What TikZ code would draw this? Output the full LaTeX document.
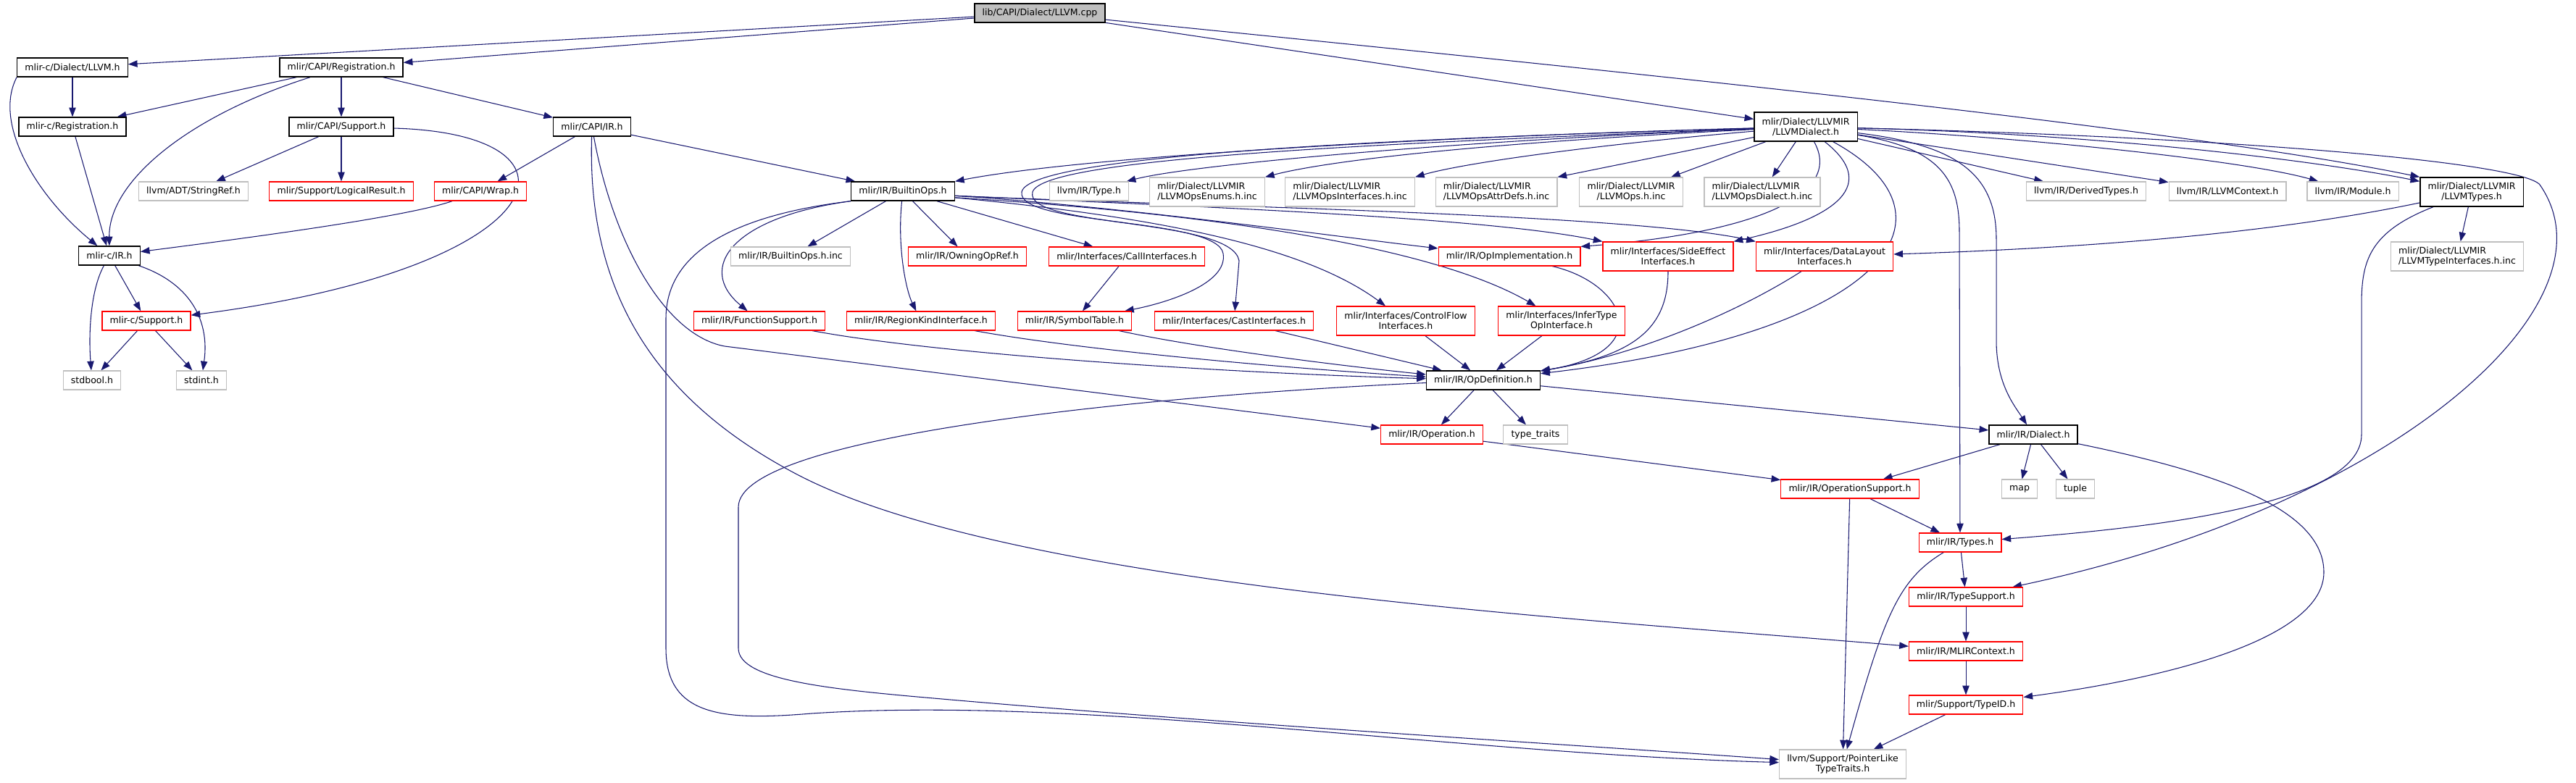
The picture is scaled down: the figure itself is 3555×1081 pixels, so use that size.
\documentclass[tikz,border=0pt]{standalone}
\usepackage{fontspec}
\setmainfont{DejaVu Sans}
\usetikzlibrary{arrows.meta}
\definecolor{edgec}{HTML}{191970}
\definecolor{greyb}{HTML}{BFBFBF}
\definecolor{redb}{HTML}{FF0000}
\pgfdeclarelayer{background}
\pgfsetlayers{background,main}
\begin{document}
\begin{tikzpicture}[x=0.75pt,y=-0.75pt,
  every node/.style={font=\fontsize{9.4}{10.5}\selectfont},
  fbox/.style={draw, line width=0.9pt, fill=white, inner xsep=8pt, inner ysep=2pt, minimum height=19.5pt},
  two/.style={minimum height=30pt},
  kbox/.style={fbox, draw=black, line width=1pt},
  gbox/.style={fbox, draw=greyb},
  rbox/.style={fbox, draw=redb},
  rootbox/.style={fbox, draw=black, fill=greyb, line width=1pt},
  dep/.style={draw=edgec, line width=0.8pt, -{Triangle[length=9.5pt,width=7pt]}}
]
\useasboundingbox (0,0) rectangle (3555,1081);

% ---------- nodes ----------
\node[rootbox] (root) at (1435,18) {lib/CAPI/Dialect/LLVM.cpp};
\node[kbox] (cdl) at (100,93) {mlir-c/Dialect/LLVM.h};
\node[kbox] (capireg) at (471,93) {mlir/CAPI/Registration.h};
\node[kbox] (creg) at (100,175) {mlir-c/Registration.h};
\node[kbox] (capisup) at (471,175) {mlir/CAPI/Support.h};
\node[kbox] (capiir) at (817,175) {mlir/CAPI/IR.h};
\node[gbox] (strref) at (267,264) {llvm/ADT/StringRef.h};
\node[rbox] (logres) at (471,264) {mlir/Support/LogicalResult.h};
\node[rbox] (wrap) at (663,264) {mlir/CAPI/Wrap.h};
\node[kbox] (cir) at (151,353) {mlir-c/IR.h};
\node[rbox] (csup) at (202,443) {mlir-c/Support.h};
\node[gbox] (stdbool) at (127,525) {stdbool.h};
\node[gbox] (stdint) at (278,525) {stdint.h};

\node[kbox] (bops) at (1246,264) {mlir/IR/BuiltinOps.h};
\node[gbox] (ltype) at (1503,264) {llvm/IR/Type.h};
\node[gbox,two,align=left] (enums) at (1666,265) {mlir/Dialect/LLVMIR\\/LLVMOpsEnums.h.inc};
\node[gbox,two,align=left] (ifaces) at (1863,265) {mlir/Dialect/LLVMIR\\/LLVMOpsInterfaces.h.inc};
\node[gbox,two,align=left] (attrdefs) at (2065,265) {mlir/Dialect/LLVMIR\\/LLVMOpsAttrDefs.h.inc};
\node[gbox,two,align=center] (opsinc) at (2251,265) {mlir/Dialect/LLVMIR\\/LLVMOps.h.inc};
\node[gbox,two,align=left] (dialinc) at (2432,265) {mlir/Dialect/LLVMIR\\/LLVMOpsDialect.h.inc};
\node[gbox] (derived) at (2879,264) {llvm/IR/DerivedTypes.h};
\node[gbox] (lctx) at (3074,264) {llvm/IR/LLVMContext.h};
\node[gbox] (module) at (3247,264) {llvm/IR/Module.h};
\node[kbox,two,align=center] (lltypes) at (3411,265) {mlir/Dialect/LLVMIR\\/LLVMTypes.h};
\node[kbox,two,align=center] (lldial) at (2492,175) {mlir/Dialect/LLVMIR\\/LLVMDialect.h};
\node[gbox,two,align=left] (tyifinc) at (3391,354) {mlir/Dialect/LLVMIR\\/LLVMTypeInterfaces.h.inc};

\node[gbox] (bopsinc) at (1091,354) {mlir/IR/BuiltinOps.h.inc};
\node[rbox] (owning) at (1335,354) {mlir/IR/OwningOpRef.h};
\node[rbox] (callif) at (1555,354) {mlir/Interfaces/CallInterfaces.h};
\node[rbox] (opimpl) at (2083,354) {mlir/IR/OpImplementation.h};
\node[rbox,two,align=center] (sideeff) at (2302,354) {mlir/Interfaces/SideEffect\\Interfaces.h};
\node[rbox,two,align=center] (datalayout) at (2518,354) {mlir/Interfaces/DataLayout\\Interfaces.h};

\node[rbox] (funcsup) at (1048,443) {mlir/IR/FunctionSupport.h};
\node[rbox] (regkind) at (1271,443) {mlir/IR/RegionKindInterface.h};
\node[rbox] (symtab) at (1483,443) {mlir/IR/SymbolTable.h};
\node[rbox] (castif) at (1703,443) {mlir/Interfaces/CastInterfaces.h};
\node[rbox,two,align=center] (cflow) at (1940,443) {mlir/Interfaces/ControlFlow\\Interfaces.h};
\node[rbox,two,align=center] (infer) at (2155,443) {mlir/Interfaces/InferType\\OpInterface.h};

\node[kbox] (opdef) at (2047,525) {mlir/IR/OpDefinition.h};
\node[rbox] (operation) at (1976,600) {mlir/IR/Operation.h};
\node[gbox] (typetraits) at (2119,600) {type\_traits};
\node[kbox] (dialect) at (2806,600) {mlir/IR/Dialect.h};
\node[gbox] (map) at (2787,675) {map};
\node[gbox] (tuple) at (2864,675) {tuple};
\node[rbox] (opsupport) at (2553,675) {mlir/IR/OperationSupport.h};
\node[rbox] (types) at (2705,749) {mlir/IR/Types.h};
\node[rbox] (typesup) at (2713,824) {mlir/IR/TypeSupport.h};
\node[rbox] (mlirctx) at (2713,899) {mlir/IR/MLIRContext.h};
\node[rbox] (typeid) at (2713,973) {mlir/Support/TypeID.h};
\node[gbox,two,align=center] (ptrlike) at (2543,1055) {llvm/Support/PointerLike\\TypeTraits.h};

% ---------- edges ----------
\begin{pgfonlayer}{background}
% root
\draw[dep] (root) -- (cdl);
\draw[dep] (root) -- (capireg);
\draw[dep] (root) -- (lldial);
\draw[dep] (root) .. controls (2200,95) and (3000,175) .. (lltypes.north west);
% mlir-c/Dialect/LLVM.h
\draw[dep] (cdl) -- (creg);
\draw[dep] (cdl.south west) .. controls (-10,170) and (50,270) .. (cir);
% mlir/CAPI/Registration.h
\draw[dep] (capireg) -- (creg);
\draw[dep] (capireg) .. controls (260,160) and (150,250) .. (cir);
\draw[dep] (capireg) -- (capisup);
\draw[dep] (capireg) -- (capiir);
% mlir-c/Registration.h
\draw[dep] (creg) -- (cir);
% mlir/CAPI/Support.h
\draw[dep] (capisup) -- (strref);
\draw[dep] (capisup) -- (logres);
\draw[dep] (capisup) .. controls (830,185) and (770,370) .. (csup);
% mlir/CAPI/IR.h
\draw[dep] (capiir) -- (wrap);
\draw[dep] (capiir) -- (bops);
\draw[dep] (capiir) .. controls (845,330) and (915,462) .. (1000,478) -- (operation);
\draw[dep] (capiir) .. controls (810,400) and (900,550) .. (1100,655) .. controls (1400,812) and (2200,855) .. (mlirctx);
% mlir-c/IR.h
\draw[dep] (cir) -- (csup);
\draw[dep] (cir) .. controls (125,400) and (122,460) .. (stdbool);
\draw[dep] (cir) .. controls (260,390) and (290,440) .. (stdint);
\draw[dep] (csup) -- (stdbool);
\draw[dep] (csup) -- (stdint);
\draw[dep] (wrap) .. controls (560,300) and (330,330) .. (cir);
% BuiltinOps.h
\draw[dep] (bops) -- (bopsinc);
\draw[dep] (bops) -- (owning);
\draw[dep] (bops) -- (callif);
\draw[dep] (bops) .. controls (1238,340) and (1250,400) .. (regkind);
\draw[dep] (bops.south west) .. controls (1010,300) and (960,370) .. (funcsup);
\draw[dep] (bops.south west) .. controls (990,300) and (919,360) .. (919,440) -- (919,895) .. controls (919,990) and (1000,995) .. (1120,985) .. controls (1500,960) and (2000,1040) .. (ptrlike);
\draw[dep] (bops.-5) .. controls (1550,285) and (1870,330) .. (opimpl);
\draw[dep] (bops.-5) .. controls (1650,285) and (2050,300) .. (sideeff.north west);
\draw[dep] (bops.-5) .. controls (1650,285) and (2250,295) .. (datalayout.north west);
\draw[dep] (bops.-7) .. controls (1600,290) and (1960,330) .. (infer);
\draw[dep] (bops.-7) .. controls (1600,300) and (1800,340) .. (cflow);
% LLVMDialect.h
\draw[dep] (lldial) .. controls (2000,188) and (1500,215) .. (bops.north east);
\draw[dep] (lldial) .. controls (2000,195) and (1640,228) .. (ltype);
\draw[dep] (lldial) .. controls (2000,200) and (1820,225) .. (enums.north east);
\draw[dep] (lldial) .. controls (2200,200) and (2020,225) .. (ifaces.north east);
\draw[dep] (lldial) -- (attrdefs.north east);
\draw[dep] (lldial) -- (opsinc);
\draw[dep] (lldial) -- (dialinc);
\draw[dep] (lldial) -- (derived);
\draw[dep] (lldial) -- (lctx);
\draw[dep] (lldial) .. controls (2800,190) and (3100,222) .. (module);
\draw[dep] (lldial) .. controls (2900,185) and (3200,222) .. (lltypes);
\draw[dep] (lldial) .. controls (3100,190) and (3480,225) .. (3505,255) .. controls (3620,420) and (3300,700) .. (typesup);
\draw[dep] (lldial) .. controls (2545,270) and (2420,322) .. (opimpl.north east);
\draw[dep] (lldial) .. controls (2600,260) and (2520,305) .. (sideeff.north east);
\draw[dep] (lldial) .. controls (2720,300) and (2600,460) .. (opdef);
\draw[dep] (lldial) .. controls (2680,205) and (2704,250) .. (2704,320) -- (types);
\draw[dep] (lldial) .. controls (2700,200) and (2755,240) .. (2755,330) -- (2755,470) .. controls (2755,530) and (2780,560) .. (dialect);
\draw[dep] (lldial) .. controls (1900,192) and (1420,215) .. (1410,265) .. controls (1402,312) and (1680,300) .. (1688,350) .. controls (1695,392) and (1610,418) .. (symtab);
\draw[dep] (lldial) .. controls (1900,198) and (1440,218) .. (1425,265) .. controls (1412,315) and (1700,300) .. (1710,360) -- (castif);
% LLVMTypes.h
\draw[dep] (lltypes) -- (tyifinc);
\draw[dep] (lltypes) .. controls (3100,330) and (2800,345) .. (datalayout);
\draw[dep] (lltypes) .. controls (3270,320) and (3259,360) .. (3259,420) -- (3259,600) .. controls (3259,700) and (2950,730) .. (types);
% OpDefinition.h
\draw[dep] (opdef) -- (operation);
\draw[dep] (opdef) -- (typetraits);
\draw[dep] (opdef) -- (dialect);
\draw[dep] (opdef) .. controls (1600,545) and (1019,600) .. (1019,700) -- (1019,895) .. controls (1019,940) and (1150,952) .. (1300,965) .. controls (1700,1000) and (2200,1030) .. (ptrlike);
% lower part
\draw[dep] (operation) -- (opsupport);
\draw[dep] (dialect) -- (opsupport);
\draw[dep] (dialect) -- (map);
\draw[dep] (dialect) -- (tuple);
\draw[dep] (dialect) .. controls (3050,650) and (3207,700) .. (3207,790) .. controls (3207,880) and (3000,935) .. (typeid);
\draw[dep] (opsupport) -- (types);
\draw[dep] (opsupport) -- (ptrlike);
\draw[dep] (types) -- (typesup);
\draw[dep] (types) .. controls (2620,800) and (2600,850) .. (ptrlike);
\draw[dep] (typesup) -- (mlirctx);
\draw[dep] (mlirctx) -- (typeid);
\draw[dep] (typeid) -- (ptrlike);
% interfaces
\draw[dep] (callif) -- (symtab);
\draw[dep] (funcsup) .. controls (1300,490) and (1700,515) .. (opdef);
\draw[dep] (regkind) .. controls (1500,485) and (1800,510) .. (opdef);
\draw[dep] (symtab) .. controls (1650,480) and (1850,505) .. (opdef);
\draw[dep] (castif) -- (opdef);
\draw[dep] (cflow) -- (opdef);
\draw[dep] (infer) -- (opdef);
\draw[dep] (opimpl) .. controls (2240,390) and (2290,485) .. (opdef);
\draw[dep] (sideeff) .. controls (2302,450) and (2260,490) .. (opdef);
\draw[dep] (datalayout) .. controls (2400,430) and (2260,490) .. (opdef);
\end{pgfonlayer}
\end{tikzpicture}
\end{document}
